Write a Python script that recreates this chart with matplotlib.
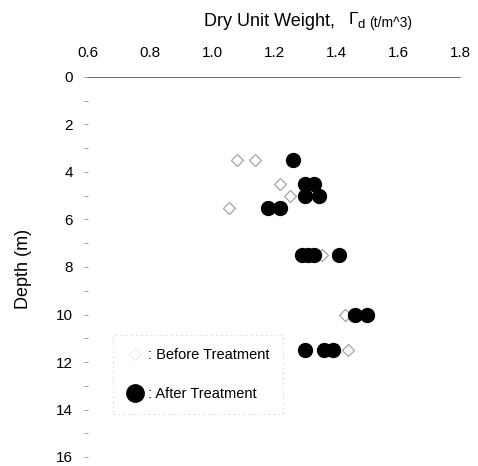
import matplotlib
matplotlib.use('Agg')
import matplotlib.pyplot as plt
from matplotlib.lines import Line2D
from matplotlib.ticker import MultipleLocator

plt.rcParams['font.family'] = ['Liberation Sans', 'DejaVu Sans']

# before treatment (open diamonds)
before_dw = [1.08, 1.14, 1.22, 1.25, 1.055, 1.355, 1.43, 1.44]
before_depth = [3.5, 3.5, 4.5, 5.0, 5.5, 7.5, 10.0, 11.5]

# after treatment (filled circles)
after_dw = [1.26, 1.30, 1.33, 1.30, 1.345, 1.18, 1.22,
            1.29, 1.31, 1.33, 1.41, 1.46, 1.50, 1.30, 1.36, 1.39]
after_depth = [3.5, 4.5, 4.5, 5.0, 5.0, 5.5, 5.5,
               7.5, 7.5, 7.5, 7.5, 10.0, 10.0, 11.5, 11.5, 11.5]

xticks = [0.6, 0.8, 1.0, 1.2, 1.4, 1.6, 1.8]
yticks = [0, 2, 4, 6, 8, 10, 12, 14, 16]

W, H = 478, 466
fig = plt.figure(figsize=(W / 100, H / 100), dpi=100)
ax = fig.add_axes([88 / W, 9 / H, 372 / W, 380 / H])

ax.plot(before_dw, before_depth, linestyle='none', marker='D', markersize=6,
        markerfacecolor='white', markeredgecolor='#9a9a9a', markeredgewidth=0.8)
ax.plot(after_dw, after_depth, linestyle='none', marker='o', markersize=10,
        markerfacecolor='black', markeredgecolor='black')

ax.set_xlim(0.6, 1.8)
ax.set_ylim(16, 0)
ax.xaxis.tick_top()
ax.set_xticks(xticks)
ax.set_xticklabels([f'{v:.1f}' for v in xticks])
ax.set_yticks(yticks)
ax.yaxis.set_minor_locator(MultipleLocator(1))
ax.tick_params(axis='x', length=0, pad=12, labelsize=11)
ax.tick_params(axis='y', which='both', length=3, width=0.6, color='#8a8a8a',
               pad=8, labelsize=11)

for side in ['right', 'bottom', 'left']:
    ax.spines[side].set_visible(False)
ax.spines['top'].set_color('#555555')
ax.spines['top'].set_linewidth(0.6)

# title pieces above the top axis
fig.text(204 / W, 1 - 21 / H, 'Dry Unit Weight,', fontsize=13,
         ha='left', va='center')
fig.text(349 / W, 1 - 20 / H, 'Γ', fontsize=12.5, ha='left', va='center')
fig.text(358 / W, 1 - 25 / H, 'd', fontsize=9.5, ha='left', va='center')
fig.text(369 / W, 1 - 23 / H, '(t/m^3)', fontsize=10, ha='left', va='center')

fig.text(24 / W, 1 - 269 / H, 'Depth (m)', fontsize=13, rotation=90,
         ha='center', va='center')

handles = [
    Line2D([], [], linestyle='none', marker='D', markersize=6,
           markerfacecolor='white', markeredgecolor='#e6e6e6', markeredgewidth=0.6),
    Line2D([], [], linestyle='none', marker='o', markersize=12.5,
           markerfacecolor='black', markeredgecolor='black'),
]
leg = ax.legend(handles, [': Before Treatment', ': After Treatment'],
                loc='upper left', bbox_to_anchor=(113 / W, 1 - 335 / H),
                bbox_transform=fig.transFigure, fontsize=10.5,
                frameon=True, fancybox=False, borderpad=0.9,
                labelspacing=1.7, handlelength=1.2, handletextpad=0.3,
                borderaxespad=0)
leg.get_frame().set_edgecolor('#c8c8c8')
leg.get_frame().set_linewidth(0.6)
leg.get_frame().set_linestyle((0, (2, 4)))

fig.savefig('out.png', dpi=100)
